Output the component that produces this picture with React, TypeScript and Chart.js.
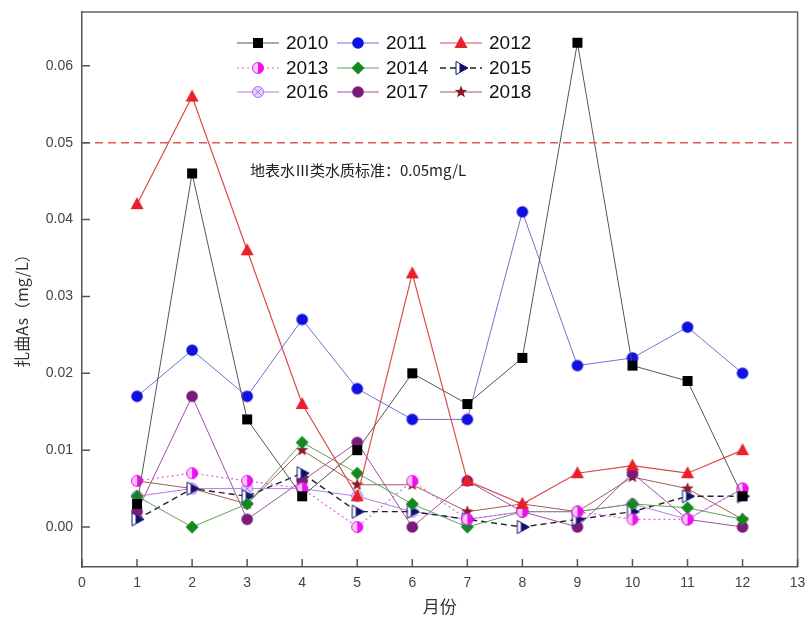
import React, { useEffect, useRef } from "react";
import { Chart, registerables } from "chart.js";

Chart.register(...registerables);

const months = [1, 2, 3, 4, 5, 6, 7, 8, 9, 10, 11, 12];
const xTickValues = [0, 1, 2, 3, 4, 5, 6, 7, 8, 9, 10, 11, 12, 13];
const yTickValues = [0, 0.01, 0.02, 0.03, 0.04, 0.05, 0.06];
const seriesNames = ["2010", "2011", "2012", "2013", "2014", "2015", "2016", "2017", "2018"];

const y2010 = [0.003, 0.046, 0.014, 0.004, 0.010, 0.020, 0.016, 0.022, 0.063, 0.021, 0.019, 0.004];
const y2011 = [0.017, 0.023, 0.017, 0.027, 0.018, 0.014, 0.014, 0.041, 0.021, 0.022, 0.026, 0.020];
const y2012 = [0.042, 0.056, 0.036, 0.016, 0.004, 0.033, 0.006, 0.003, 0.007, 0.008, 0.007, 0.010];
const y2013 = [0.006, 0.007, 0.006, 0.005, 0.000, 0.006, 0.001, 0.002, 0.002, 0.001, 0.001, 0.005];
const y2014 = [0.004, 0.000, 0.003, 0.011, 0.007, 0.003, 0.000, 0.002, 0.002, 0.003, 0.0025, 0.001];
const y2015 = [0.001, 0.005, 0.004, 0.007, 0.002, 0.002, 0.001, 0.000, 0.001, 0.002, 0.004, 0.004];
const y2016 = [0.004, 0.005, 0.005, 0.005, 0.004, 0.002, 0.001, 0.002, 0.002, 0.003, 0.001, 0.005];
const y2017 = [0.002, 0.017, 0.001, 0.006, 0.011, 0.000, 0.006, 0.002, 0.000, 0.007, 0.001, 0.000];
const y2018 = [0.006, 0.005, 0.003, 0.010, 0.0055, 0.0055, 0.002, 0.003, 0.002, 0.0065, 0.005, 0.001];
const standardValue = 0.05;
const standardText = "地表水Ⅲ类水质标准：0.05mg/L";
const yTitle = "扎曲As（mg/L）";
const xTitle = "月份";

type MarkerKind = "square" | "circle" | "triangle" | "halfCircle" | "diamond" | "halfTri" | "crossCircle" | "star";

const styles: { kind: MarkerKind; color: string; line: string; dash: number[]; lw: number }[] = [
  { kind: "square", color: "#000000", line: "#555555", dash: [], lw: 1 },
  { kind: "circle", color: "#1010e0", line: "#7070d0", dash: [], lw: 1 },
  { kind: "triangle", color: "#e8202a", line: "#e04848", dash: [], lw: 1.2 },
  { kind: "halfCircle", color: "#ee10ee", line: "#e060e0", dash: [2, 3], lw: 1.2 },
  { kind: "diamond", color: "#108a20", line: "#60a060", dash: [], lw: 1 },
  { kind: "halfTri", color: "#10106e", line: "#222222", dash: [6, 4], lw: 1.4 },
  { kind: "crossCircle", color: "#b070f0", line: "#b080e0", dash: [], lw: 1 },
  { kind: "circle", color: "#7a1a7a", line: "#a050a0", dash: [], lw: 1 },
  { kind: "star", color: "#8a1a2a", line: "#a06050", dash: [], lw: 1 },
];

function drawMarker(ctx: CanvasRenderingContext2D, kind: MarkerKind, color: string, cx: number, cy: number) {
  ctx.save();
  ctx.fillStyle = color;
  ctx.strokeStyle = color;
  ctx.lineWidth = 1;
  ctx.setLineDash([]);
  if (kind === "square") {
    ctx.fillRect(cx - 5, cy - 5, 10, 10);
  } else if (kind === "circle") {
    ctx.beginPath();
    ctx.arc(cx, cy, 5.8, 0, Math.PI * 2);
    ctx.fill();
  } else if (kind === "triangle") {
    ctx.beginPath();
    ctx.moveTo(cx, cy - 7);
    ctx.lineTo(cx + 6.5, cy + 5);
    ctx.lineTo(cx - 6.5, cy + 5);
    ctx.closePath();
    ctx.fill();
  } else if (kind === "halfCircle") {
    ctx.beginPath();
    ctx.arc(cx, cy, 5.5, 0, Math.PI * 2);
    ctx.fillStyle = "#ffc8ff";
    ctx.fill();
    ctx.beginPath();
    ctx.arc(cx, cy, 5.5, -Math.PI / 2, Math.PI / 2);
    ctx.closePath();
    ctx.fillStyle = color;
    ctx.fill();
    ctx.beginPath();
    ctx.arc(cx, cy, 5.5, 0, Math.PI * 2);
    ctx.stroke();
  } else if (kind === "diamond") {
    ctx.beginPath();
    ctx.moveTo(cx, cy - 6.5);
    ctx.lineTo(cx + 6.5, cy);
    ctx.lineTo(cx, cy + 6.5);
    ctx.lineTo(cx - 6.5, cy);
    ctx.closePath();
    ctx.fill();
  } else if (kind === "halfTri") {
    ctx.beginPath();
    ctx.moveTo(cx + 7, cy);
    ctx.lineTo(cx - 5, cy - 6.5);
    ctx.lineTo(cx - 5, cy + 6.5);
    ctx.closePath();
    ctx.fillStyle = "#ffffff";
    ctx.fill();
    const hx = cx - 1.5;
    const hy = 6.5 * (1 - (hx - (cx - 5)) / 12);
    ctx.beginPath();
    ctx.moveTo(hx, cy - hy);
    ctx.lineTo(cx + 7, cy);
    ctx.lineTo(hx, cy + hy);
    ctx.closePath();
    ctx.fillStyle = color;
    ctx.fill();
    ctx.beginPath();
    ctx.moveTo(cx + 7, cy);
    ctx.lineTo(cx - 5, cy - 6.5);
    ctx.lineTo(cx - 5, cy + 6.5);
    ctx.closePath();
    ctx.stroke();
  } else if (kind === "crossCircle") {
    ctx.beginPath();
    ctx.arc(cx, cy, 5.5, 0, Math.PI * 2);
    ctx.fillStyle = "#e6d4ff";
    ctx.fill();
    ctx.stroke();
    ctx.beginPath();
    ctx.moveTo(cx - 3.8, cy - 3.8);
    ctx.lineTo(cx + 3.8, cy + 3.8);
    ctx.moveTo(cx + 3.8, cy - 3.8);
    ctx.lineTo(cx - 3.8, cy + 3.8);
    ctx.stroke();
  } else if (kind === "star") {
    ctx.beginPath();
    for (let i = 0; i < 10; i++) {
      const r = i % 2 === 0 ? 6.5 : 2.8;
      const a = -Math.PI / 2 + (i * Math.PI) / 5;
      const px = cx + r * Math.cos(a);
      const py = cy + r * Math.sin(a);
      if (i === 0) ctx.moveTo(px, py);
      else ctx.lineTo(px, py);
    }
    ctx.closePath();
    ctx.fill();
  }
  ctx.restore();
}

function makeMarkerCanvas(kind: MarkerKind, color: string): HTMLCanvasElement {
  const c = document.createElement("canvas");
  c.width = 18;
  c.height = 18;
  const ctx = c.getContext("2d")!;
  drawMarker(ctx, kind, color, 9, 9);
  return c;
}

export default function App() {
  const ref = useRef<HTMLCanvasElement | null>(null);

  useEffect(() => {
    if (!ref.current) return;
    const allY = [y2010, y2011, y2012, y2013, y2014, y2015, y2016, y2017, y2018];
    const markers = styles.map((s) => makeMarkerCanvas(s.kind, s.color));

    const datasets: any[] = [
      {
        label: "standard",
        data: [
          { x: 0, y: standardValue },
          { x: 13, y: standardValue },
        ],
        borderColor: "#e05a5a",
        borderWidth: 1.5,
        borderDash: [8, 5],
        pointRadius: 0,
      },
    ];
    allY.forEach((arr, i) => {
      datasets.push({
        label: seriesNames[i],
        data: months.map((m, j) => ({ x: m, y: arr[j] })),
        borderColor: styles[i].line,
        borderWidth: styles[i].lw,
        borderDash: styles[i].dash,
        pointStyle: markers[i],
        pointRadius: 6,
        tension: 0,
      });
    });

    const decor = {
      id: "decor",
      afterDraw(chart: any) {
        const ctx: CanvasRenderingContext2D = chart.ctx;
        const { left, right, top, bottom } = chart.chartArea;
        const xs = chart.scales.x;
        const ys = chart.scales.y;
        ctx.save();
        // frame
        ctx.strokeStyle = "#666666";
        ctx.lineWidth = 1.5;
        ctx.beginPath();
        ctx.moveTo(left, top);
        ctx.lineTo(right, top);
        ctx.lineTo(right, bottom);
        ctx.stroke();
        // inward ticks
        ctx.strokeStyle = "#555555";
        ctx.lineWidth = 1.5;
        ctx.beginPath();
        xTickValues.forEach((v) => {
          const px = xs.getPixelForValue(v);
          ctx.moveTo(px, bottom);
          ctx.lineTo(px, bottom - 8);
        });
        yTickValues.forEach((v) => {
          const py = ys.getPixelForValue(v);
          ctx.moveTo(left, py);
          ctx.lineTo(left + 8, py);
        });
        ctx.stroke();
        // annotation
        ctx.fillStyle = "#222222";
        ctx.textBaseline = "middle";
        ctx.textAlign = "left";
        ctx.font = '15px "Noto Sans CJK SC", "Liberation Sans", sans-serif';
        ctx.fillText(standardText, xs.getPixelForValue(3.05), ys.getPixelForValue(0.0464));
        // axis titles
        ctx.fillStyle = "#333333";
        ctx.font = '16px "Noto Sans CJK SC", "Liberation Sans", sans-serif';
        ctx.textAlign = "center";
        ctx.save();
        ctx.translate(22, 307);
        ctx.rotate(-Math.PI / 2);
        ctx.fillText(yTitle, 0, 0);
        ctx.restore();
        ctx.font = '17px "Noto Sans CJK SC", sans-serif';
        ctx.fillText(xTitle, (left + right) / 2, 607);
        // legend
        const colX = [237, 337, 440];
        const rowY = [43, 68, 92];
        ctx.font = '19px "Liberation Sans", Arial, sans-serif';
        ctx.textAlign = "left";
        styles.forEach((s, i) => {
          const cx = colX[i % 3];
          const cy = rowY[Math.floor(i / 3)];
          ctx.save();
          ctx.strokeStyle = s.line;
          ctx.lineWidth = s.lw;
          ctx.setLineDash(s.dash);
          ctx.beginPath();
          ctx.moveTo(cx, cy);
          ctx.lineTo(cx + 42, cy);
          ctx.stroke();
          ctx.restore();
          drawMarker(ctx, s.kind, s.color, cx + 21, cy);
          ctx.fillStyle = "#111111";
          ctx.fillText(seriesNames[i], cx + 49, cy + 1);
        });
        ctx.restore();
      },
    };

    const chart = new Chart(ref.current, {
      type: "line",
      data: { datasets },
      options: {
        animation: false,
        responsive: false,
        maintainAspectRatio: false,
        layout: { padding: { top: 12, right: 7, left: 0, bottom: 0 } },
        plugins: { legend: { display: false }, tooltip: { enabled: false } },
        scales: {
          x: {
            type: "linear",
            min: 0,
            max: 13,
            afterBuildTicks: (s: any) => {
              s.ticks = xTickValues.map((v) => ({ value: v }));
            },
            ticks: {
              color: "#444444",
              padding: 8,
              font: { size: 14, family: '"Liberation Sans", Arial, sans-serif' },
              callback: (v: any) => String(v),
            },
            grid: { display: false, drawTicks: false },
            border: { color: "#555555", width: 1.5 },
            afterFit: (s: any) => {
              s.height = 55;
              s.paddingLeft = 0;
              s.paddingRight = 0;
            },
          },
          y: {
            type: "linear",
            min: -0.0052,
            max: 0.067,
            afterBuildTicks: (s: any) => {
              s.ticks = yTickValues.map((v) => ({ value: v }));
            },
            ticks: {
              color: "#444444",
              padding: 9,
              font: { size: 14, family: '"Liberation Sans", Arial, sans-serif' },
              callback: (v: any) => Number(v).toFixed(2),
            },
            grid: { display: false, drawTicks: false },
            border: { color: "#555555", width: 1.5 },
            afterFit: (s: any) => {
              s.width = 82;
              s.paddingTop = 0;
              s.paddingBottom = 0;
            },
          },
        },
      } as any,
      plugins: [decor],
    });
    return () => chart.destroy();
  }, []);

  return (
    <div style={{ position: "fixed", left: 0, top: 0, width: 805, height: 622, background: "#ffffff" }}>
      <canvas ref={ref} width={805} height={622} style={{ display: "block" }} />
    </div>
  );
}
